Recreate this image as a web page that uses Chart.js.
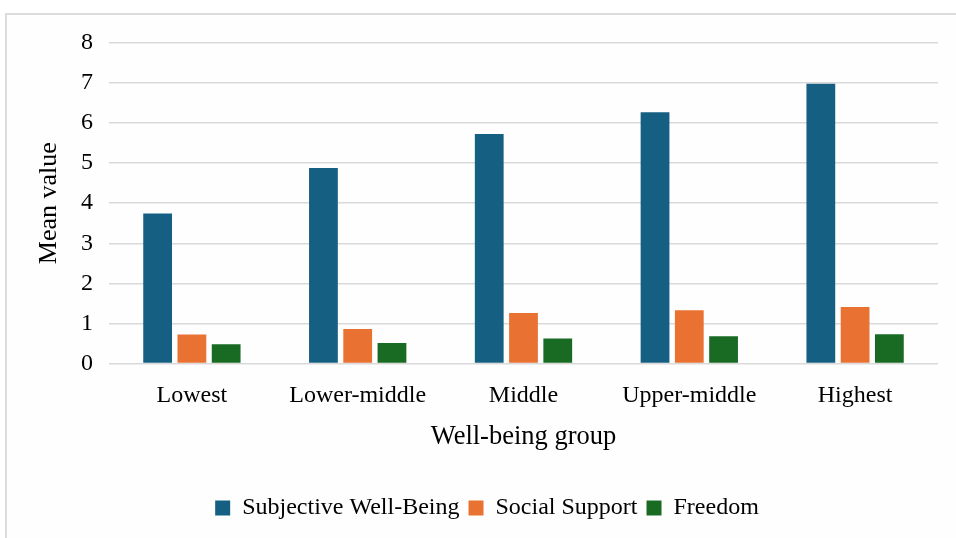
<!DOCTYPE html>
<html>
<head>
<meta charset="utf-8">
<script src="https://cdn.jsdelivr.net/npm/chart.js@4.4.1/dist/chart.umd.min.js"></script>
<style>
  html, body { margin: 0; padding: 0; background: #fff; }
  #frame {
    position: absolute; left: 5px; top: 13px; width: 1000px; height: 600px;
    border: 2px solid #dcdcdc; box-sizing: border-box; background: #fefefe;
  }
  #wrap { position: absolute; left: 0; top: 0; width: 956px; height: 538px; }
</style>
</head>
<body>
<div id="frame"></div>
<div id="wrap"><canvas id="chart"></canvas></div>
<script>
const groups = ["Lowest", "Lower-middle", "Middle", "Upper-middle", "Highest"];
const wellBeing = [3.74, 4.88, 5.73, 6.27, 6.98];
const socialSupport = [0.72, 0.86, 1.26, 1.33, 1.41];
const freedom = [0.48, 0.51, 0.62, 0.68, 0.73];

const serif = "'Liberation Serif', 'Times New Roman', serif";

new Chart("chart", {
  type: "bar",
  data: {
    labels: groups,
    datasets: [
      { label: "Subjective Well-Being", data: wellBeing, backgroundColor: "#156082" },
      { label: "Social Support", data: socialSupport, backgroundColor: "#e97132" },
      { label: "Freedom", data: freedom, backgroundColor: "#196b24" }
    ]
  },
  options: {
    responsive: true,
    maintainAspectRatio: false,
    animation: false,
    categoryPercentage: 0.62,
    barPercentage: 0.84,
    layout: { padding: { left: 36, right: 18, top: 43, bottom: 8 } },
    plugins: {
      tooltip: { enabled: false },
      legend: {
        position: "bottom",
        labels: {
          color: "#000",
          font: { family: serif, size: 24 },
          boxWidth: 15,
          boxHeight: 15,
          padding: 9
        }
      }
    },
    scales: {
      x: {
        grid: { display: false },
        border: { display: false },
        ticks: { color: "#000", font: { family: serif, size: 24 }, padding: 10 },
        title: {
          display: true,
          text: "Well-being group",
          color: "#000",
          font: { family: serif, size: 26.5 },
          padding: { top: 1, bottom: 34 }
        }
      },
      y: {
        min: 0,
        max: 8,
        afterFit: (scale) => { scale.width = 73; },
        grid: { color: "#d9d9d9", lineWidth: 1.5, drawTicks: false },
        border: { display: false },
        ticks: { stepSize: 1, color: "#000", font: { family: serif, size: 24 }, padding: 16 },
        title: {
          display: true,
          text: "Mean value",
          color: "#000",
          font: { family: serif, size: 26, lineHeight: 1 },
          padding: 0
        }
      }
    }
  }
});
</script>
</body>
</html>
